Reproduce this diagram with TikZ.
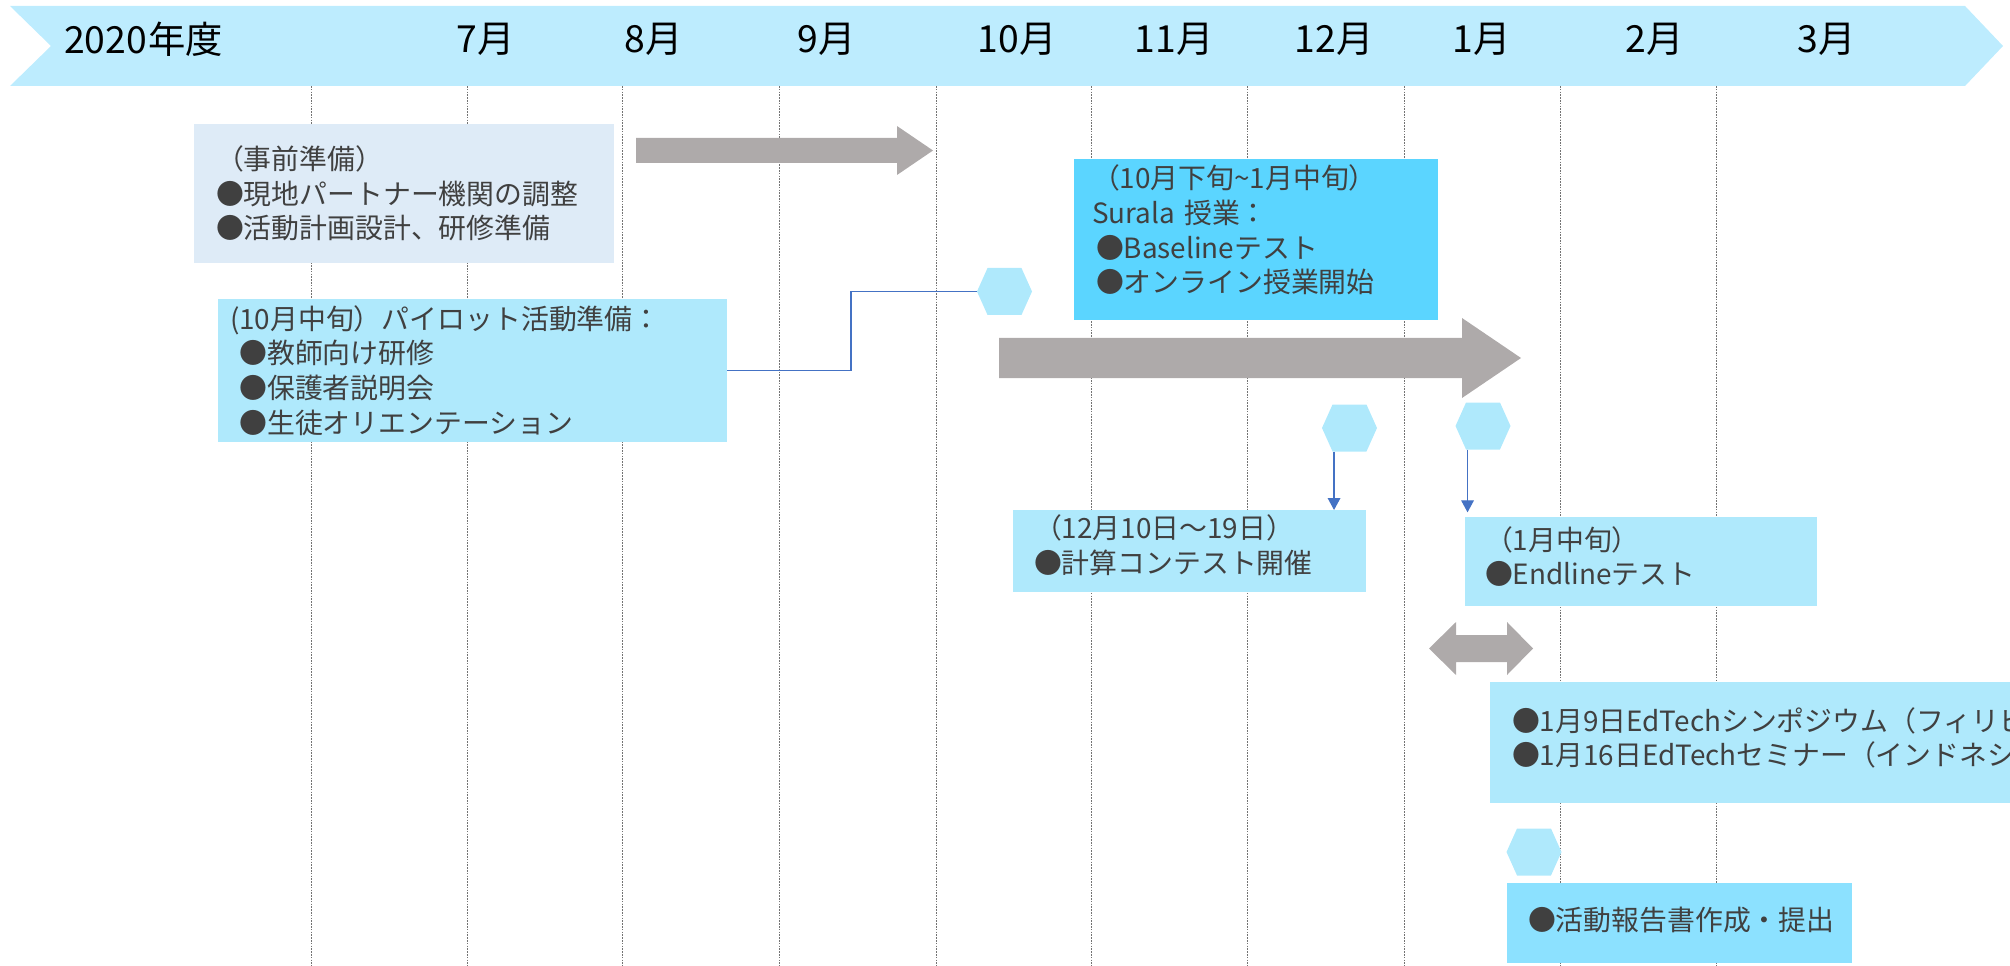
\documentclass[tikz,border=0pt]{standalone}
\usepackage{fontspec}
\setmainfont{Noto Sans CJK JP}
\usetikzlibrary{arrows.meta,calc}
\definecolor{bannercol}{RGB}{189,236,254}
\definecolor{prepcol}{RGB}{222,235,247}
\definecolor{lightbox}{RGB}{175,233,252}
\definecolor{strongbox}{RGB}{91,213,255}
\definecolor{midbox}{RGB}{140,225,255}
\definecolor{hexfill}{RGB}{175,233,252}
\definecolor{arrowgray}{RGB}{174,170,170}
\definecolor{blueline}{RGB}{68,114,196}
\definecolor{txt}{RGB}{64,64,64}
\newcommand{\dpad}[1]{\rule[-#1]{0pt}{#1}}
\begin{document}
\begin{tikzpicture}[x=0.75pt,y=-0.75pt,
  tbox/.style={anchor=north west, inner ysep=0pt, outer sep=0pt, align=left, text=txt,
    font=\fontsize{20.9pt}{26pt}\selectfont},
  mlabel/.style={font=\fontsize{28pt}{32pt}\selectfont, text=black, inner sep=0pt},
  gridline/.style={black!55, line width=0.5pt, dash pattern=on 1.2pt off 0.9pt},
  conn/.style={draw=blueline, line width=0.9pt},
  connarrow/.style={conn, -{Triangle[width=9.5pt,length=9pt]}},
  hexslot/.style={minimum width=41.25pt, minimum height=35.25pt, inner sep=0pt, outer sep=0pt},
  bigarrow/.style={fill=arrowgray}
]
\useasboundingbox (0,0) rectangle (2010,966);
\clip (0,0) rectangle (2010,966);

% grid lines
\foreach \gx in {311,467,622,779,936,1091,1247,1404,1560,1716}
  \draw[gridline] (\gx,86) -- (\gx,966);

% banner
\fill[bannercol] (10,6) -- (1965,6) -- (2003,46) -- (1965,86) -- (10,86) -- (51,46) -- cycle;
\node[mlabel, anchor=west] (yr) at (64,39) {2020\hspace{1pt}年度};
\node[mlabel] (m7) at (486,39) {7月};
\node[mlabel] (m8) at (654,39) {8月};
\node[mlabel] (m9) at (827,39) {9月};
\node[mlabel] (m10) at (1017,39) {10月};
\node[mlabel] (m11) at (1174,39) {11月};
\node[mlabel] (m12) at (1334,39) {12月};
\node[mlabel] (m1) at (1482,39) {1月};
\node[mlabel] (m2) at (1655,39) {2月};
\node[mlabel] (m3) at (1827,39) {3月};

% gray arrows
\fill[bigarrow] (636,138) -- (897,138) -- (897,126) -- (933,150.5) -- (897,175) -- (897,163) -- (636,163) -- cycle;
\fill[bigarrow] (999,338) -- (1462,338) -- (1462,318) -- (1521,358) -- (1462,398) -- (1462,378) -- (999,378) -- cycle;
\fill[bigarrow] (1429,648.5) -- (1456,622) -- (1456,635) -- (1507,635) -- (1507,622) -- (1533,648.5) -- (1507,675) -- (1507,662) -- (1456,662) -- (1456,675) -- cycle;

% boxes
\node[tbox, fill=prepcol, inner xsep=16.5pt, text width=282pt, minimum height=104.25pt] (b1) at (194,124)
  {（事前準備）\\●現地パートナー機関の調整\\●活動計画設計、研修準備};
\node[tbox, fill=lightbox, inner xsep=9pt, text width=363.75pt, minimum height=107.25pt] (b2) at (218,299)
  {(10月中旬）パイロット活動準備：\\\hspace*{7pt}●教師向け研修\\\hspace*{7pt}●保護者説明会\\\hspace*{7pt}●生徒オリエンテーション};
\node[tbox, fill=strongbox, inner xsep=13.5pt, text width=246pt, minimum height=120.75pt] (b3) at (1074,159)
  {（10月下旬\textasciitilde 1月中旬）\\Surala 授業：\\\hspace*{3pt}●Baselineテスト\\\hspace*{3pt}●オンライン授業開始\dpad{16pt}};
\node[tbox, fill=lightbox, inner xsep=15.75pt, text width=233.25pt, minimum height=61.5pt] (b4) at (1013,510)
  {（12月10日～19日）\\●計算コンテスト開催\dpad{10pt}};
\node[tbox, fill=lightbox, inner xsep=15pt, text width=234pt, minimum height=66.75pt] (b5) at (1465,517)
  {（1月中旬）\\●Endlineテスト\dpad{9pt}};
\node[tbox, fill=lightbox, inner xsep=16.5pt, text width=439.5pt, minimum height=90.75pt] (b6) at (1490,682)
  {●1月9日EdTechシンポジウム（フィリピン）\\●1月16日EdTechセミナー（インドネシア）\dpad{9pt}};
\node[tbox, fill=midbox, inner xsep=15.75pt, text width=227.25pt, minimum height=60pt] (b7) at (1507,883)
  {●活動報告書作成・提出\dpad{6pt}};

% hexagons
\node[hexslot] (h1) at (1004.5,291.5) {};
\node[hexslot] (h2) at (1349.5,428) {};
\node[hexslot] (h3) at (1483,426) {};
\node[hexslot] (h4) at (1534,852) {};
\foreach \h in {h1,h2,h3,h4}
  \fill[hexfill] (\h.west) -- ([xshift=7.9pt]\h.north west) -- ([xshift=-7.9pt]\h.north east)
    -- (\h.east) -- ([xshift=-7.9pt]\h.south east) -- ([xshift=7.9pt]\h.south west) -- cycle;

% connectors
\draw[conn] (b2.east) -- ++(124,0) |- (h1.west);
\draw[connarrow] ([xshift=-11.6pt]h2.south) -- ([xshift=-11.6pt]h2.south |- b4.north);
\draw[connarrow, shorten >=3.5pt] ([xshift=-11.6pt]h3.south) -- ([xshift=-11.6pt]h3.south |- b5.north);
\end{tikzpicture}
\end{document}
